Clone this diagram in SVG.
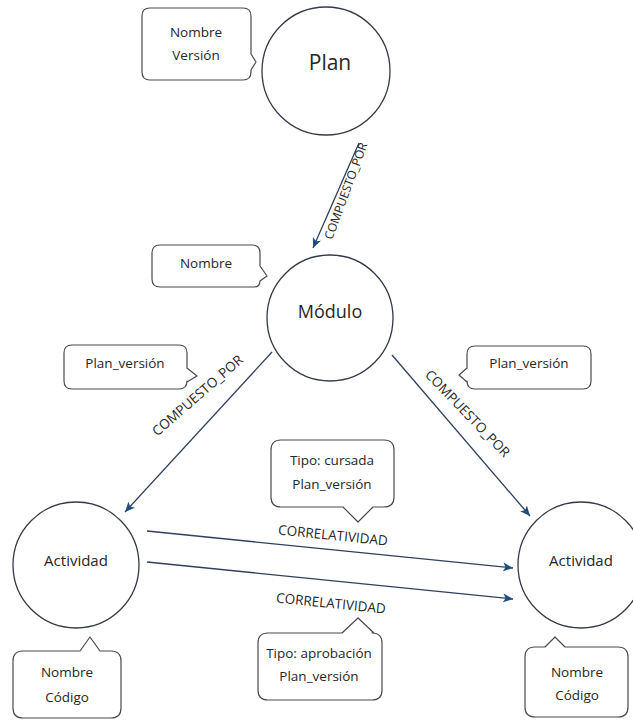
<svg xmlns="http://www.w3.org/2000/svg" width="633" height="720" viewBox="0 0 633 720">
<defs>
<marker id="arr" viewBox="0 0 10 10" refX="10" refY="5" markerWidth="10" markerHeight="10" markerUnits="userSpaceOnUse" orient="auto">
<path d="M0,0.5 L10,5 L0,9.5 L2.5,5 Z" fill="#1f4e79"/>
</marker>
</defs>
<style>
.node{fill:#fff;stroke:#333a48;stroke-width:1.3}
.call{fill:#fff;stroke:#4a4a4a;stroke-width:1.2;stroke-linejoin:round}
.t{font-family:"Open Sans","Noto Sans",sans-serif;fill:#262626;text-anchor:middle}
.ct{font-size:13.5px}
.edge{stroke:#2f3f5c;stroke-width:1.3;fill:none;marker-end:url(#arr)}
.el{font-family:"Open Sans","Noto Sans",sans-serif;fill:#262626;text-anchor:middle}
</style>
<rect width="633" height="720" fill="#fff"/>

<g id="connectors">
<line class="edge" x1="359" y1="143" x2="313" y2="248"/>
<line class="edge" x1="272" y1="352" x2="125" y2="512"/>
<line class="edge" x1="392" y1="355" x2="530" y2="516"/>
<line class="edge" x1="147" y1="531" x2="513" y2="568"/>
<line class="edge" x1="147" y1="562" x2="513" y2="599"/>
<text class="el" transform="translate(346,191) rotate(-69.7)" y="4" style="font-size:12px">COMPUESTO_POR</text>
<text class="el" transform="translate(198,396) rotate(-41)" y="4" style="font-size:13.5px">COMPUESTO_POR</text>
<text class="el" transform="translate(467,414) rotate(46)" y="4" style="font-size:13.5px">COMPUESTO_POR</text>
<text class="el" transform="translate(333,535) rotate(5.8)" y="5" style="font-size:13.5px">CORRELATIVIDAD</text>
<text class="el" transform="translate(331,603) rotate(5.8)" y="5" style="font-size:13.5px">CORRELATIVIDAD</text>
</g>

<g id="plan">
<circle class="node" cx="326" cy="71" r="64"/>
<text class="t" x="330" y="70" style="font-size:21px">Plan</text>
</g>
<g id="modulo">
<circle class="node" cx="330" cy="318" r="63"/>
<text class="t" x="330" y="318" style="font-size:18px">Módulo</text>
</g>
<g id="actividad1">
<circle class="node" cx="76" cy="565" r="63"/>
<text class="t" x="76" y="566" style="font-size:15px">Actividad</text>
</g>
<g id="actividad2">
<circle class="node" cx="581" cy="565" r="63"/>
<text class="t" x="581" y="566" style="font-size:15px">Actividad</text>
</g>

<g id="attr-plan">
<path class="call" d="M150,8 H243 Q251,8 251,16 V54 L256,62 L251,70 V72 Q251,80 243,80 H150 Q142,80 142,72 V16 Q142,8 150,8 Z"/>
<text class="t ct" x="196" y="37">Nombre</text>
<text class="t ct" x="196" y="60">Versión</text>
</g>
<g id="attr-modulo">
<path class="call" d="M160,245 H252 Q260,245 260,253 V266 L267,276 L260,281 Q260,287 254,287 H160 Q152,287 152,279 V253 Q152,245 160,245 Z"/>
<text class="t ct" x="206" y="268">Nombre</text>
</g>
<g id="attr-rel-left">
<path class="call" d="M72,345 H179 Q187,345 187,353 V368 L197,376 L187,382 V381 Q187,389 179,389 H72 Q64,389 64,381 V353 Q64,345 72,345 Z"/>
<text class="t ct" x="125" y="368">Plan_versión</text>
</g>
<g id="attr-rel-right">
<path class="call" d="M475,346 H583 Q591,346 591,354 V381 Q591,389 583,389 H475 Q467,389 467,381 V382 L459,375 L467,368 V354 Q467,346 475,346 Z"/>
<text class="t ct" x="529" y="368">Plan_versión</text>
</g>
<g id="attr-cursada">
<path class="call" d="M281,440 H384 Q394,440 394,450 V497 Q394,507 384,507 H373 L358,522 L343,507 H281 Q271,507 271,497 V450 Q271,440 281,440 Z"/>
<text class="t ct" x="332" y="465">Tipo: cursada</text>
<text class="t ct" x="332" y="489">Plan_versión</text>
</g>
<g id="attr-aprobacion">
<path class="call" d="M268,633 H342 L358,618 L374,633 H372 Q382,633 382,643 V690 Q382,700 372,700 H268 Q258,700 258,690 V643 Q258,633 268,633 Z"/>
<text class="t ct" x="319" y="658">Tipo: aprobación</text>
<text class="t ct" x="319" y="681">Plan_versión</text>
</g>
<g id="attr-act1">
<path class="call" d="M23,651 H80 L90,637 L100,651 H111 Q121,651 121,661 V708 Q121,718 111,718 H23 Q13,718 13,708 V661 Q13,651 23,651 Z"/>
<text class="t ct" x="67" y="677">Nombre</text>
<text class="t ct" x="67" y="702">Código</text>
</g>
<g id="attr-act2">
<path class="call" d="M535,647 H545 L555,637 L565,647 H618 Q628,647 628,657 V707 Q628,717 618,717 H535 Q525,717 525,707 V657 Q525,647 535,647 Z"/>
<text class="t ct" x="577" y="677">Nombre</text>
<text class="t ct" x="577" y="700">Código</text>
</g>
</svg>
